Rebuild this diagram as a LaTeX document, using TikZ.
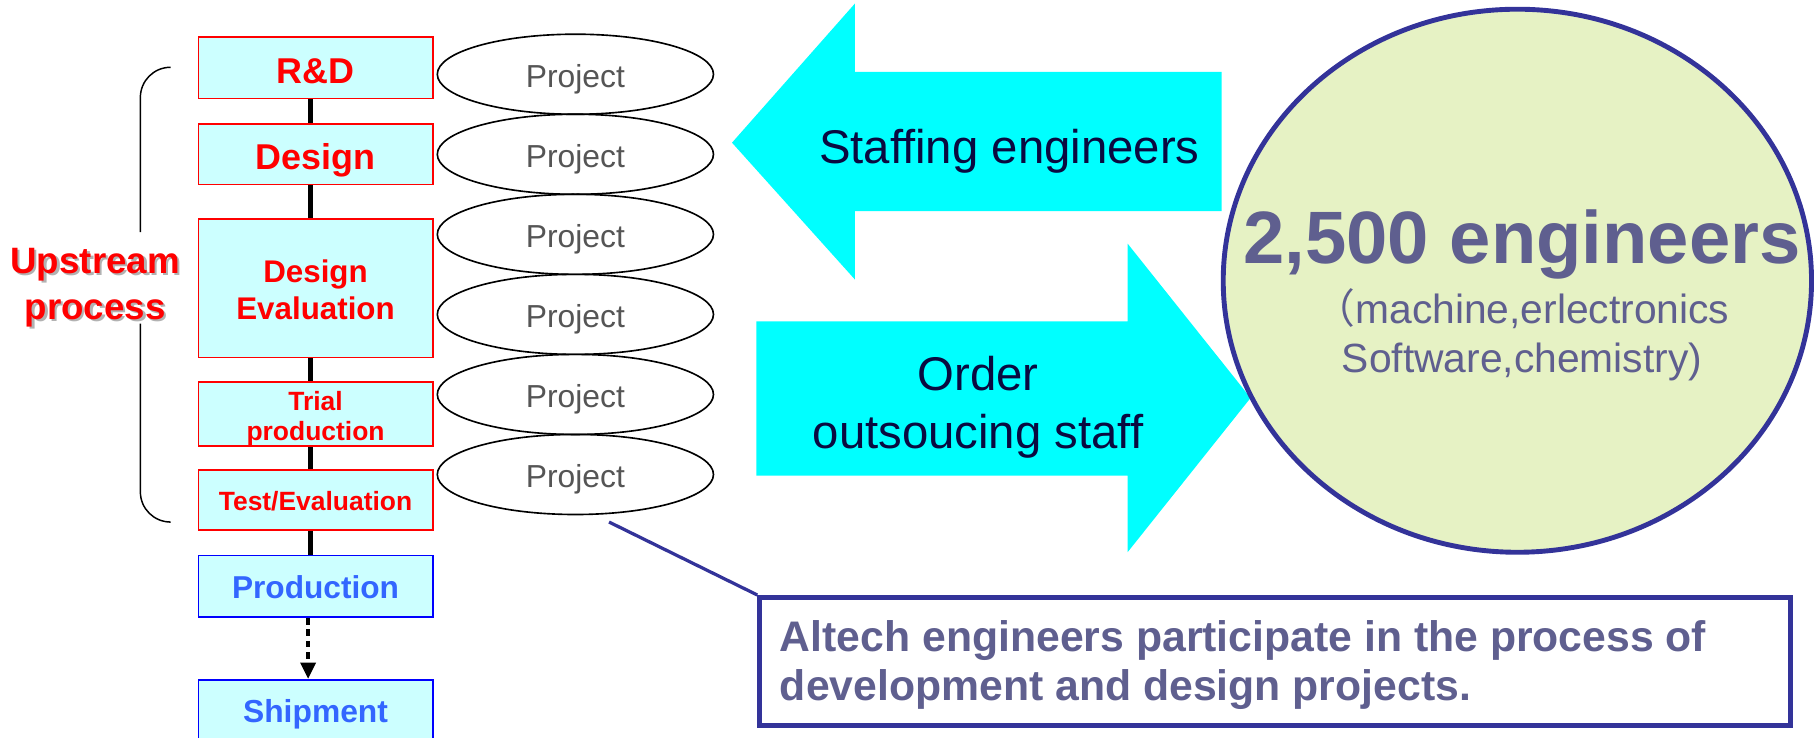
\documentclass[tikz,border=0pt]{standalone}
\usepackage{fontspec}
\setmainfont{Liberation Sans}
\newfontfamily\cjk{Noto Sans CJK JP}
\usetikzlibrary{shapes.geometric,arrows.meta}

\definecolor{boxcyan}{HTML}{CCFFFF}
\definecolor{arrowcyan}{HTML}{00FFFF}
\definecolor{stepred}{HTML}{FF0000}
\definecolor{stepblue}{HTML}{3366FF}
\definecolor{edgeblue}{HTML}{0000FF}
\definecolor{navytext}{HTML}{0A0A40}
\definecolor{poolfill}{HTML}{E6F2C4}
\definecolor{pooledge}{HTML}{333399}
\definecolor{slatetext}{HTML}{5F5F8F}
\definecolor{projgray}{HTML}{555555}

% invisible strut that pushes the text of a node down a little
\newcommand{\padtop}[1]{\rule{0pt}{#1}}

\tikzset{
    stepbox/.style={draw, line width=1pt, fill=boxcyan, minimum width=5.05cm, inner sep=0pt, align=center},
    redstep/.style={stepbox, draw=stepred, text=stepred},
    bluestep/.style={stepbox, draw=edgeblue, text=stepblue},
    project/.style={draw, ellipse, line width=1pt, minimum width=5.95cm, minimum height=1.725cm, inner sep=0pt, text=projgray, font=\fontsize{19.5}{23}\selectfont},
    flowtext/.style={text=navytext, align=center, font=\fontsize{29}{35.5}\selectfont}
}

\begin{document}
\begin{tikzpicture}[x=0.025cm, y=-0.025cm]
    \useasboundingbox (0,0) rectangle (1568,636);

    % Process steps from R&D down to shipment
    \node[redstep, minimum height=1.325cm, font=\bfseries\fontsize{22}{26}\selectfont] (rd) at (272,58.5) {\padtop{18.9pt}R\&D};
    \node[redstep, minimum height=1.3cm, font=\bfseries\fontsize{22}{26}\selectfont] (design) at (272,133) {\padtop{23pt}Design};
    \node[redstep, minimum height=2.975cm, font=\bfseries\fontsize{19.2}{22.8}\selectfont] (deval) at (272,248.5) {\padtop{16.2pt}Design\\Evaluation};
    \node[redstep, minimum height=1.3cm, font=\bfseries\fontsize{16.2}{18.5}\selectfont] (trial) at (272,357) {\padtop{17.5pt}Trial\\production};
    \node[redstep, minimum height=1.3cm, font=\bfseries\fontsize{16.2}{19}\selectfont] (test) at (272,431) {\padtop{13.2pt}Test/Evaluation};
    \node[bluestep, minimum height=1.325cm, font=\bfseries\fontsize{19.4}{23}\selectfont] (prod) at (272,505.5) {\padtop{15.6pt}Production};
    \node[bluestep, minimum height=1.325cm, font=\bfseries\fontsize{19.5}{23}\selectfont] (ship) at (272,612.5) {\padtop{18.9pt}Shipment};

    % Links between the steps
    \foreach \a/\b in {rd/design, design/deval, deval/trial, trial/test, test/prod}
    \draw[line width=3pt] ([xshift=-0.1cm]\a.south) -- ([xshift=-0.1cm]\b.north);
    \draw[line width=2.5pt, dash pattern=on 4pt off 3pt, -{Triangle[length=10pt, width=9pt]}]
        ([xshift=-0.16cm]prod.south) -- ([xshift=-0.16cm]ship.north);

    % Bracket for the upstream process
    \draw[line width=0.9pt, rounded corners=0.65cm] (146,58) -- (121,58) -- (121,200);
    \draw[line width=0.9pt, rounded corners=0.65cm] (121,279) -- (121,450) -- (146,450);
    \node[text=black!30, align=center, font=\bfseries\fontsize{22.5}{28.4}\selectfont] (upshadow) at (84,250) {Upstream\\process};
    \node[text=stepred, align=center, font=\bfseries\fontsize{22.5}{28.4}\selectfont] (upstream) at (82,248) {Upstream\\process};

    % Projects next to the steps
    \foreach \i/\y in {
        1/64, 2/133, 3/202, 4/271, 5/340, 6/409
    }
    \node[project] (p\i) at (496,\y) {\padtop{19.9pt}Project};

    % Staffing arrow pointing left
    \fill[arrowcyan] (631,123) -- (737,3) -- (737,62) -- (1053,62) -- (1053,182)
        -- (737,182) -- (737,241) -- cycle;
    \node[flowtext] (staffing) at (870,130) {Staffing engineers};

    % Order arrow pointing right
    \fill[arrowcyan] (1078,343) -- (972,210) -- (972,277) -- (652,277) -- (652,410)
        -- (972,410) -- (972,476) -- cycle;
    \node[flowtext] (order) at (843,351) {Order\\outsoucing staff};

    % Pool of engineers
    \node[ellipse, draw=pooledge, fill=poolfill, line width=3pt, minimum width=12.675cm, minimum height=11.7cm, inner sep=0pt] (pool) at (1308,242) {};
    \node[text=slatetext, font=\bfseries\fontsize{45.5}{50}\selectfont] (count) at (1312,211) {2,500 engineers};
    \node[text=slatetext, align=center, font=\fontsize{25}{30}\selectfont] (fields) at (1312,288.5) {{\cjk （}machine,erlectronics\\Software,chemistry)};

    % Callout under the projects
    \node[draw=pooledge, line width=3pt, minimum width=22.2cm, minimum height=2.75cm, inner sep=0pt] (note) at (1099,570) {};
    \node[anchor=west, inner sep=0pt, text=slatetext, align=left, font=\bfseries\fontsize{26.2}{30}\selectfont] (notetext) at (672,573) {Altech engineers participate in the process of\\development and design projects.};
    \coordinate (tail) at (525,450);
    \draw[pooledge, line width=2pt] (tail) -- (note.north west);
\end{tikzpicture}
\end{document}
